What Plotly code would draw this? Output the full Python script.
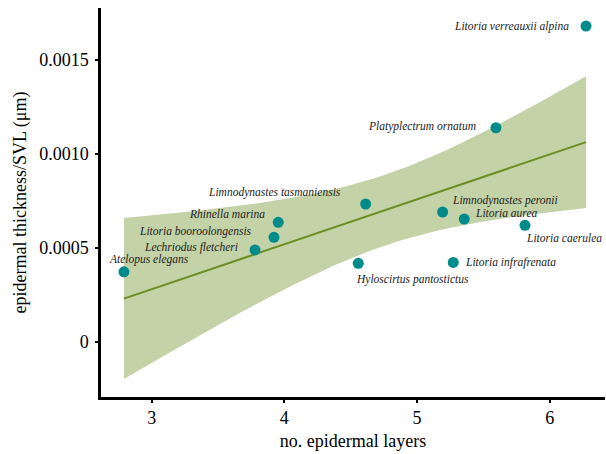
import numpy as np
import plotly.graph_objects as go

# Species-level means: number of epidermal layers vs epidermal thickness / SVL
species = [
    "Atelopus elegans",
    "Lechriodus fletcheri",
    "Litoria booroolongensis",
    "Rhinella marina",
    "Limnodynastes tasmaniensis",
    "Hyloscirtus pantostictus",
    "Limnodynastes peronii",
    "Litoria aurea",
    "Litoria infrafrenata",
    "Litoria caerulea",
    "Platyplectrum ornatum",
    "Litoria verreauxii alpina",
]
layers = [2.791, 3.779, 3.922, 3.954, 4.613, 4.557, 5.193, 5.356, 5.273, 5.814, 5.595, 6.274]
thickness_svl = [0.000373, 0.000489, 0.000556, 0.000636, 0.000733, 0.000418,
                 0.000690, 0.000653, 0.000423, 0.000620, 0.001138, 0.001678]

y_tick_vals = [0, 0.0005, 0.0010, 0.0015]
y_tick_text = ["0", "0.0005", "0.0010", "0.0015"]
x_tick_vals = [3, 4, 5, 6]

# label placement per species: (xanchor, x shift px, y shift px)
label_pos = {
    "Atelopus elegans": ("left", -17, 12),
    "Lechriodus fletcheri": ("right", -15, 2),
    "Litoria booroolongensis": ("right", -20, 6),
    "Rhinella marina": ("right", -11, 8),
    "Limnodynastes tasmaniensis": ("right", -23, 12),
    "Hyloscirtus pantostictus": ("left", -4, -16),
    "Limnodynastes peronii": ("left", 7, 12),
    "Litoria aurea": ("left", 9, 6),
    "Litoria infrafrenata": ("left", 10, 0),
    "Litoria caerulea": ("left", -1, -13),
    "Platyplectrum ornatum": ("right", -18, 1),
    "Litoria verreauxii alpina": ("right", -15, 0),
}

# Ordinary least-squares fit with 95% confidence band (as geom_smooth(method="lm"))
x = np.asarray(layers)
y = np.asarray(thickness_svl)
n = len(x)
slope, intercept = np.polyfit(x, y, 1)
resid = y - (slope * x + intercept)
s = np.sqrt(np.sum(resid ** 2) / (n - 2))
sxx = np.sum((x - x.mean()) ** 2)
t_crit = 2.228139  # Student t, 0.975 quantile, 10 degrees of freedom
xg = np.linspace(x.min(), x.max(), 80)
yg = slope * xg + intercept
half = t_crit * s * np.sqrt(1 / n + (xg - x.mean()) ** 2 / sxx)
lower, upper = yg - half, yg + half

serif = "Liberation Serif"
fig = go.Figure()
fig.add_trace(go.Scatter(
    x=np.concatenate([xg, xg[::-1]]),
    y=np.concatenate([upper, lower[::-1]]),
    fill="toself", fillcolor="rgba(107,142,35,0.4)",
    line=dict(width=0), mode="lines", hoverinfo="skip", showlegend=False,
))
fig.add_trace(go.Scatter(
    x=xg, y=yg, mode="lines", line=dict(color="#6B8E23", width=2),
    hoverinfo="skip", showlegend=False,
))
fig.add_trace(go.Scatter(
    x=layers, y=thickness_svl, mode="markers", text=species,
    marker=dict(color="#008B8B", size=11), showlegend=False,
))

for name, xv, yv in zip(species, layers, thickness_svl):
    anchor, dx, dy = label_pos[name]
    fig.add_annotation(
        x=xv, y=yv, text=f"<i>{name}</i>", showarrow=False,
        xanchor=anchor, yanchor="middle", xshift=dx, yshift=dy,
        font=dict(family=serif, size=11.5, color="#222222"),
    )

fig.update_layout(
    width=606, height=454,
    margin=dict(l=101, r=1, t=8, b=57),
    paper_bgcolor="white", plot_bgcolor="white",
    font=dict(family=serif, color="black"),
)
fig.update_xaxes(
    range=[2.618, 6.417], tickvals=x_tick_vals,
    showgrid=False, zeroline=False,
    showline=True, linecolor="black", linewidth=2.5,
    ticks="outside", ticklen=3, tickwidth=2, tickcolor="black",
    tickfont=dict(family=serif, size=18, color="black"),
    title=dict(text="no. epidermal layers", font=dict(family=serif, size=18, color="black"), standoff=8),
)
fig.update_yaxes(
    range=[-0.000292, 0.001774], tickvals=y_tick_vals, ticktext=y_tick_text,
    showgrid=False, zeroline=False,
    showline=True, linecolor="black", linewidth=2.5,
    ticks="outside", ticklen=3, tickwidth=2, tickcolor="black",
    ticklabelstandoff=3,
    tickfont=dict(family=serif, size=18, color="black"),
    title=dict(text="epidermal thickness/SVL (μm)", font=dict(family=serif, size=18, color="black"), standoff=8),
)

fig.write_html("out.html")
